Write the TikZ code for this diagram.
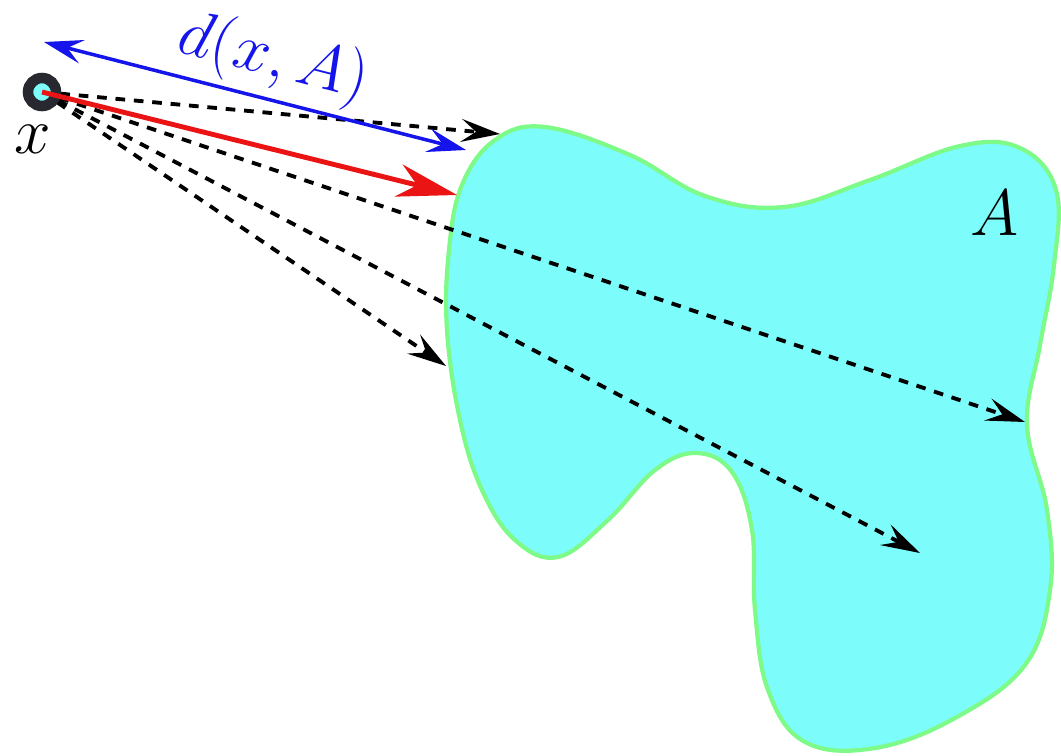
\documentclass[tikz,border=0pt]{standalone}
\usetikzlibrary{arrows.meta}
\definecolor{blobfill}{RGB}{125,252,252}
\definecolor{blobline}{RGB}{125,250,135}
\definecolor{ringcol}{RGB}{40,40,48}
\definecolor{myblue}{RGB}{20,20,235}
\definecolor{myred}{RGB}{235,20,20}
\begin{document}
\begin{tikzpicture}[x=0.02cm,y=-0.02cm,
  dasharrow/.style={draw=black, line width=2.2pt, dash pattern=on 5.5pt off 5pt,
    -{Stealth[length=0.78cm,width=0.46cm,inset=0.3cm]}},
  redarrow/.style={draw=myred, line width=2.8pt, -{Stealth[length=1.2cm,width=0.66cm,inset=0.38cm]}},
  bluearrow/.style={draw=myblue, line width=2pt, {Stealth[length=0.78cm,width=0.48cm,inset=0.3cm]}-{Stealth[length=0.78cm,width=0.48cm,inset=0.3cm]}},
  bigmath/.style={font=\Huge, scale=1.5, inner sep=1pt},
  pointnode/.style={circle, draw=ringcol, line width=6pt, fill=blobfill, minimum size=0.56cm, inner sep=0pt}
]
\useasboundingbox (0,0) rectangle (1061,755);

% the set A
\draw[blobline, line width=2.4pt, fill=blobfill] plot[smooth cycle, tension=0.65] coordinates {
  (545,127) (630,155) (705,196) (784,207) (870,180) (960,146) (1020,148) (1056,190)
  (1054,265) (1040,345) (1027,425) (1047,510) (1050,590) (1025,665) (955,718)
  (875,748) (805,742) (768,690) (755,610) (752,530) (732,472) (696,453) (655,470)
  (608,520) (558,557) (515,540) (482,490) (460,420) (447,330) (449,250) (462,185) (495,140)};
\node[bigmath] (Alab) at (995,213) {$A$};

% arrow targets
\coordinate (xc) at (42,92);
\coordinate (t1) at (500,134);
\coordinate (t2) at (1025,422);
\coordinate (t3) at (920,553);
\coordinate (t4) at (446,366);
\coordinate (r1) at (457,195);
\coordinate (b1) at (44,42);
\coordinate (b2) at (466,150);

\draw[dasharrow] (xc) -- (t1);
\draw[dasharrow] (xc) -- (t2);
\draw[dasharrow] (xc) -- (t3);
\draw[dasharrow] (xc) -- (t4);

\node[pointnode] (x) at (xc) {};
\node[bigmath] (xlab) at (33,139) {$x$};

\draw[redarrow] (x.center) -- (r1);
\draw[bluearrow] (b1) -- node[pos=0.52, sloped, above=1pt, bigmath, text=myblue] (dlab) {$d(x,A)$} (b2);
\end{tikzpicture}
\end{document}
